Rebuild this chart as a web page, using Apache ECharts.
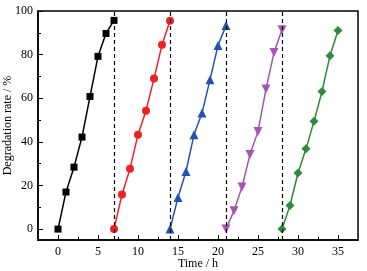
<!DOCTYPE html>
<html>
<head>
<meta charset="utf-8">
<script src="https://cdn.jsdelivr.net/npm/echarts@6/dist/echarts.min.js"></script>
<style>
html,body{margin:0;padding:0;background:#fff}
#main{width:367px;height:271px}
</style>
</head>
<body>
<div id="main"></div>
<script>
// five degradation cycles, 7 h each
var names = ['Cycle 1','Cycle 2','Cycle 3','Cycle 4','Cycle 5']
var times = [
	[0,1,2,3,4,5,6,7],
	[7,8,9,10,11,12,13,14],
	[14,15,16,17,18,19,20,21],
	[21,22,23,24,25,26,27,28],
	[28,29,30,31,32,33,34,35]
]
var rate1 = [0,17,28.4,42.2,60.8,79.2,89.7,95.7]
var rate2 = [0,15.9,27.7,43.3,54.3,69,84.5,95.5]
var rate3 = [0,14.5,26.4,43.3,53.2,68.5,84.2,93.3]
var rate4 = [0,8.4,19.3,34.2,44.8,64.2,81,91.4]
var rate5 = [0,10.8,25.7,36.8,49.4,63.1,79.5,91.1]
var rates = [rate1,rate2,rate3,rate4,rate5]
var dividers = [7,14,21,28]
var xMajor = [0,5,10,15,20,25,30,35]
var xMinor = [2.5,7.5,12.5,17.5,22.5,27.5,32.5]
var yMajor = [0,20,40,60,80,100]
var yMinor = [10,30,50,70,90]

var colors = ['#000000','#ee2222','#2452b0','#a455b2','#2f8a3c']
var symbols = ['rect','circle','triangle','triangle','diamond']
var symSize = [7,8,9,9,9]
var symRot = [0,0,0,180,0]

var font = 'Liberation Serif'

function makeXAxis(vals, len, showLabel){
	return {
		type:'value', min:-2.5, max:37.5, position:'bottom',
		name: showLabel ? 'Time / h' : '',
		nameLocation:'middle', nameGap:18, nameMoveOverlap:false,
		nameTextStyle:{fontFamily:font,fontSize:12,color:'#000'},
		axisLine:{show:showLabel,onZero:false,lineStyle:{color:'#000',width:1.5}},
		axisTick:{show:true,inside:true,length:len,customValues:vals,lineStyle:{color:'#000',width:1}},
		axisLabel:{show:showLabel,customValues:vals,fontFamily:font,fontSize:12,color:'#000',margin:6},
		splitLine:{show:false}
	}
}
function makeYAxis(vals, len, showLabel){
	return {
		type:'value', min:-5, max:100, position:'left',
		name: showLabel ? 'Degradation rate / %' : '',
		nameLocation:'middle', nameGap:24, nameRotate:90, nameMoveOverlap:false,
		nameTextStyle:{fontFamily:font,fontSize:12,color:'#000'},
		axisLine:{show:showLabel,onZero:false,lineStyle:{color:'#000',width:1.5}},
		axisTick:{show:true,inside:true,length:len,customValues:vals,lineStyle:{color:'#000',width:1}},
		axisLabel:{show:showLabel,customValues:vals,fontFamily:font,fontSize:12,color:'#000',margin:5},
		splitLine:{show:false}
	}
}

var series = []
for(var i=0;i<rates.length;i++){
	var pts = []
	for(var j=0;j<rates[i].length;j++){
		pts.push([times[i][j],rates[i][j]])
	}
	series.push({
		name:names[i],
		type:'line',
		data:pts,
		symbol:symbols[i],
		symbolSize:symSize[i],
		symbolRotate:symRot[i],
		showSymbol:true,
		lineStyle:{color:colors[i],width:1.5},
		itemStyle:{color:colors[i]},
		z:3
	})
}
// dashed cycle separators
series[0].markLine = {
	silent:true,
	symbol:['none','none'],
	label:{show:false},
	lineStyle:{color:'#000',type:[4,3],width:1.2},
	data:dividers.map(function(v){ return {xAxis:v} })
}

var chart = echarts.init(document.getElementById('main'))
var option = {
	backgroundColor:'#fff',
	animation:false,
	grid:{left:38,top:11,right:9,bottom:31,containLabel:false,outerBoundsMode:'none',show:true,borderColor:'#000',borderWidth:1.5,backgroundColor:'transparent'},
	xAxis:[makeXAxis(xMajor,5,true),makeXAxis(xMinor,3,false)],
	yAxis:[makeYAxis(yMajor,5,true),makeYAxis(yMinor,3,false)],
	series:series
}
chart.setOption(option)
</script>
</body>
</html>
